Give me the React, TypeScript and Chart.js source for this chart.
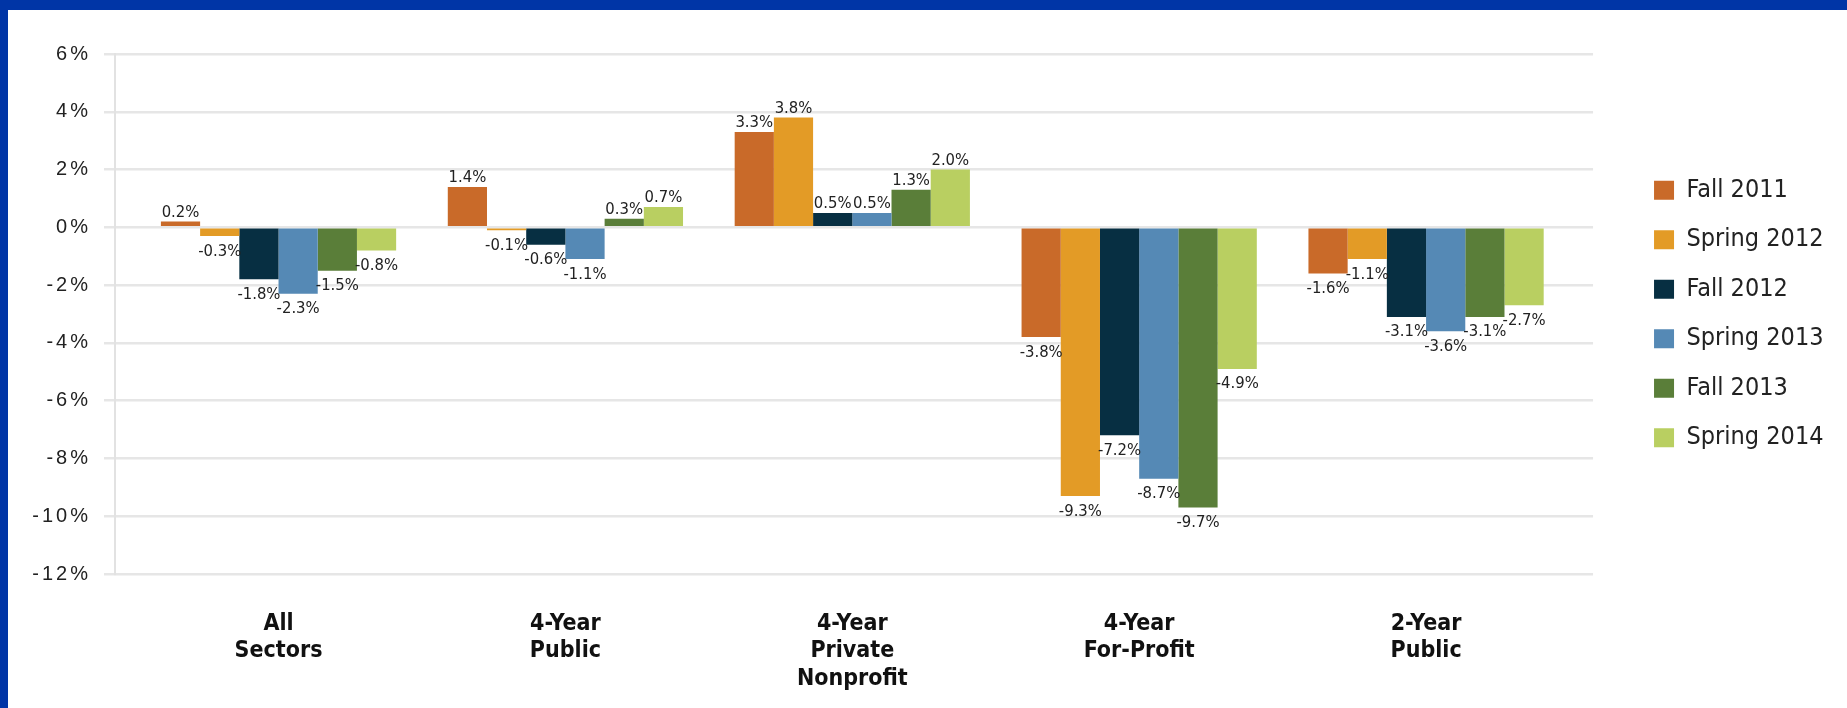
import React, { useEffect, useRef } from "react";
import { Chart, registerables } from "chart.js";

Chart.register(...registerables);

const categories = ["All Sectors", "4-Year Public", "4-Year Private Nonprofit", "4-Year For-Profit", "2-Year Public"];

const seriesNames = ["Fall 2011", "Spring 2012", "Fall 2012", "Spring 2013", "Fall 2013", "Spring 2014"];

const fall2011 = [0.2, 1.4, 3.3, -3.8, -1.6];
const spring2012 = [-0.3, -0.1, 3.8, -9.3, -1.1];
const fall2012 = [-1.8, -0.6, 0.5, -7.2, -3.1];
const spring2013 = [-2.3, -1.1, 0.5, -8.7, -3.6];
const fall2013 = [-1.5, 0.3, 1.3, -9.7, -3.1];
const spring2014 = [-0.8, 0.7, 2.0, -4.9, -2.7];

const seriesValues = [fall2011, spring2012, fall2012, spring2013, fall2013, spring2014];
const seriesColors = ["#C96A29", "#E39B26", "#072F42", "#5589B5", "#5A7E39", "#B9CF61"];

const yTicks = [6, 4, 2, 0, -2, -4, -6, -8, -10, -12];

const NARROW = "'DejaVu Sans Condensed', 'Liberation Sans Narrow', 'Liberation Sans', sans-serif";

const valueLabels = {
  id: "valueLabels",
  afterDatasetsDraw(chart: any) {
    const ctx = chart.ctx;
    ctx.save();
    ctx.font = `16.5px ${NARROW}`;
    ctx.fillStyle = "#222222";
    ctx.textAlign = "center";
    chart.data.datasets.forEach((ds: any, di: number) => {
      const meta = chart.getDatasetMeta(di);
      meta.data.forEach((bar: any, i: number) => {
        const v = ds.data[i].y;
        const txt = `${v.toFixed(1)}%`;
        if (v >= 0) {
          ctx.textBaseline = "alphabetic";
          ctx.fillText(txt, bar.x, bar.y - 5);
        } else {
          ctx.textBaseline = "top";
          ctx.fillText(txt, bar.x, bar.y + 7);
        }
      });
    });
    ctx.restore();
  },
};

const yLetterSpacing = {
  id: "yLetterSpacing",
  beforeDraw(chart: any) {
    const s = chart.scales.y;
    if (s && !s.__spaced) {
      const orig = s.drawLabels.bind(s);
      s.drawLabels = (area: any) => {
        const ctx = s.ctx;
        ctx.save();
        ctx.letterSpacing = "3px";
        orig(area);
        ctx.restore();
      };
      s.__spaced = true;
    }
  },
};

export default function App() {
  const ref = useRef<HTMLCanvasElement>(null);

  useEffect(() => {
    if (!ref.current) return;
    const chart = new Chart(ref.current, {
      type: "bar",
      data: {
        datasets: seriesNames.map((name, si) => ({
          label: name,
          data: seriesValues[si].map((v, i) => ({ x: i, y: v })),
          backgroundColor: seriesColors[si],
          borderWidth: 0,
          categoryPercentage: 0.82,
          barPercentage: 1,
          yAxisID: "y",
        })),
      },
      options: {
        responsive: false,
        animation: false,
        devicePixelRatio: 1,
        layout: { padding: { top: 44, left: 0, right: 13.5, bottom: 0 } },
        plugins: {
          tooltip: { enabled: false },
          legend: {
            position: "right",
            fullSize: false,
            labels: {
              boxWidth: 20,
              boxHeight: 19,
              padding: 24.5,
              color: "#222222",
              font: { family: NARROW, size: 25 },
            },
          },
        },
        scales: {
          x: {
            type: "linear",
            offset: false,
            min: -0.57,
            max: 4.582,
            afterBuildTicks: (s: any) => {
              s.ticks = categories.map((_, i) => ({ value: i }));
            },
            afterFit: (s: any) => {
              s.height = 134;
            },
            grid: { display: false, drawTicks: false },
            border: { display: false },
            ticks: {
              padding: 36,
              maxRotation: 0,
              autoSkip: false,
              color: "#111111",
              font: { family: NARROW, size: 23, weight: "bold", lineHeight: 1.2 },
              callback: (v: any) => {
                const c = categories[Math.round(Number(v))];
                return c ? c.split(" ") : "";
              },
            },
          },
          y: {
            min: -12,
            max: 6,
            afterBuildTicks: (s: any) => {
              s.ticks = yTicks.map((v) => ({ value: v }));
            },
            afterFit: (s: any) => {
              s.width = 107;
            },
            grid: { color: "#E6E6E6", lineWidth: 2.5, tickLength: 11, drawTicks: true },
            border: { display: true, color: "#E2E2E2", width: 2 },
            ticks: {
              padding: 13,
              color: "#222222",
              font: { family: "'Liberation Sans', Arial, sans-serif", size: 20 },
              callback: (v: any) => `${v}%`,
            },
          },
          y2: {
            position: "right",
            display: true,
            min: 0,
            max: 1,
            afterFit: (s: any) => {
              s.width = 36.5;
            },
            grid: { display: false, drawTicks: false },
            border: { display: false },
            ticks: { display: false },
          },
        },
      },
      plugins: [valueLabels, yLetterSpacing],
    } as any);
    return () => chart.destroy();
  }, []);

  return (
    <div
      style={{
        position: "fixed",
        left: 0,
        top: 0,
        width: 1847,
        height: 708,
        boxSizing: "border-box",
        borderTop: "10px solid #0035A6",
        borderLeft: "8px solid #0035A6",
        background: "#FFFFFF",
      }}
    >
      <canvas ref={ref} width={1839} height={698} style={{ display: "block", width: 1839, height: 698 }} />
    </div>
  );
}
